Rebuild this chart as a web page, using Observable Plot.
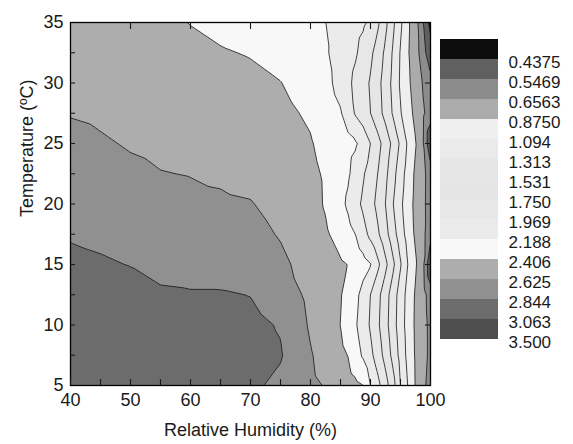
<!DOCTYPE html>
<html>
<head>
<meta charset="utf-8">
<script src="https://cdn.jsdelivr.net/npm/d3@7"></script>
<script src="https://cdn.jsdelivr.net/npm/@observablehq/plot@0.6"></script>
<style>
  html, body { margin: 0; padding: 0; background: #fff; }
  #wrap { position: relative; width: 573px; height: 444px; overflow: hidden; background: #fff; }
  #main { position: absolute; left: 0; top: 0; }
  #legend { position: absolute; left: 430px; top: 0; }
</style>
</head>
<body>
<div id="wrap"><div id="main"></div><div id="legend"></div></div>
<script>
// ---- data ----
const rhCols = [40, 45, 50, 55, 60, 65, 70, 75, 80, 82.5, 85, 86.25, 87.5, 88.75, 90, 91.25, 92.5, 93.75, 95, 96.25, 97.5, 98.75, 100];
const tempRows = [35, 32.5, 30, 27.5, 25, 22.5, 20, 17.5, 15, 12.5, 10, 7.5, 5];

const z35   = [2.50, 2.49, 2.48, 2.46, 2.40, 2.36, 2.33, 2.29, 2.23, 2.19, 2.112, 2.074, 2.036, 1.998, 1.932, 1.780, 1.582, 1.358, 1.131, 0.918, 0.707, 0.553, 0.40];
const z32_5 = [2.54, 2.53, 2.52, 2.50, 2.46, 2.42, 2.395, 2.35, 2.28, 2.210, 2.109, 2.051, 1.992, 1.903, 1.794, 1.653, 1.484, 1.288, 1.076, 0.897, 0.714, 0.585, 0.48];
const z30   = [2.58, 2.57, 2.55, 2.53, 2.50, 2.48, 2.45, 2.41, 2.33, 2.245, 2.121, 2.015, 1.918, 1.827, 1.728, 1.591, 1.435, 1.258, 1.063, 0.918, 0.771, 0.644, 0.58];
const z27_5 = [2.615, 2.595, 2.58, 2.56, 2.54, 2.52, 2.49, 2.45, 2.38, 2.293, 2.205, 2.091, 1.946, 1.848, 1.752, 1.613, 1.463, 1.291, 1.109, 0.961, 0.817, 0.674, 0.60];
const z25   = [2.68, 2.645, 2.61, 2.59, 2.58, 2.56, 2.53, 2.49, 2.42, 2.346, 2.278, 2.244, 2.209, 2.130, 1.967, 1.817, 1.654, 1.476, 1.276, 1.060, 0.889, 0.665, 0.45];
const z22_5 = [2.73, 2.70, 2.66, 2.63, 2.62, 2.60, 2.57, 2.52, 2.45, 2.383, 2.270, 2.213, 2.118, 1.994, 1.870, 1.744, 1.583, 1.388, 1.188, 1.005, 0.838, 0.686, 0.60];
const z20   = [2.78, 2.75, 2.71, 2.68, 2.66, 2.65, 2.635, 2.56, 2.48, 2.388, 2.241, 2.156, 2.042, 1.930, 1.820, 1.692, 1.529, 1.321, 1.138, 0.972, 0.820, 0.683, 0.60];
const z17_5 = [2.83, 2.815, 2.76, 2.73, 2.71, 2.70, 2.69, 2.61, 2.51, 2.436, 2.324, 2.256, 2.186, 2.051, 1.914, 1.777, 1.604, 1.405, 1.195, 1.005, 0.838, 0.686, 0.58];
const z15   = [2.88, 2.86, 2.84, 2.79, 2.77, 2.76, 2.75, 2.67, 2.54, 2.486, 2.432, 2.403, 2.335, 2.267, 2.199, 2.012, 1.801, 1.577, 1.332, 1.087, 0.904, 0.683, 0.45];
const z12_5 = [2.92, 2.92, 2.89, 2.87, 2.86, 2.86, 2.84, 2.76, 2.57, 2.494, 2.418, 2.340, 2.242, 2.121, 1.967, 1.808, 1.625, 1.422, 1.212, 1.019, 0.851, 0.699, 0.60];
const z10   = [2.95, 2.95, 2.93, 2.92, 2.91, 2.91, 2.89, 2.83, 2.60, 2.503, 2.404, 2.309, 2.211, 2.084, 1.943, 1.782, 1.604, 1.405, 1.195, 1.005, 0.842, 0.705, 0.62];
const z7_5  = [2.97, 2.97, 2.96, 2.95, 2.94, 2.93, 2.91, 2.86, 2.64, 2.551, 2.453, 2.401, 2.283, 2.161, 2.024, 1.859, 1.672, 1.467, 1.240, 1.028, 0.852, 0.708, 0.62];
const z5    = [2.98, 2.98, 2.97, 2.96, 2.95, 2.94, 2.88, 2.80, 2.66, 2.615, 2.532, 2.491, 2.449, 2.408, 2.186, 2.027, 1.835, 1.613, 1.311, 1.085, 0.861, 0.690, 0.60];

// contour levels (lower bound of each band) and legend labels
const bandLow = [0, 0.4375, 0.5469, 0.6563, 0.8750, 1.094, 1.313, 1.531, 1.750, 1.969, 2.188, 2.406, 2.625, 2.844, 3.063];
const levels = [0.4375, 0.5469, 0.6563, 0.8750, 1.094, 1.313, 1.531, 1.750, 1.969, 2.188, 2.406, 2.625, 2.844, 3.063];
const legendLabels = ["0.4375", "0.5469", "0.6563", "0.8750", "1.094", "1.313", "1.531", "1.750", "1.969", "2.188", "2.406", "2.625", "2.844", "3.063", "3.500"];
const bandColors = ["#0c0c0c", "#606060", "#8c8c8c", "#ababab", "#efefef", "#eaeaea", "#e6e6e6", "#e5e5e5", "#e7e7e7", "#ebebeb", "#f8f8f8", "#adadad", "#909090", "#6c6c6c", "#4e4e4e"];

const xTickValues = [40, 45, 50, 55, 60, 65, 70, 75, 80, 85, 90, 95, 100];
const xLabelValues = [40, 50, 60, 70, 80, 90, 100];
const xTopTickValues = [50, 60, 70, 80, 90];
const yTickValues = [7.5, 10, 12.5, 15, 17.5, 20, 22.5, 25, 27.5, 30, 32.5];
const yLabelValues = [5, 10, 15, 20, 25, 30, 35];
const yRightTickValues = [10, 15, 20, 25, 30];
const xTitle = "Relative Humidity (%)";
const yTitle = "Temperature (ºC)";

// ---- table for the contour mark ----
const zRows = [z35, z32_5, z30, z27_5, z25, z22_5, z20, z17_5, z15, z12_5, z10, z7_5, z5];
const grid = tempRows.flatMap((t, i) => rhCols.map((rh, j) => ({rh, t, z: zRows[i][j]})));

const fontFamily = '"Liberation Sans", Arial, Helvetica, sans-serif';
const colorScale = {type: "threshold", domain: levels, range: bandColors};

const main = Plot.plot({
  width: 440,
  height: 444,
  marginLeft: 70,
  marginRight: 10,
  marginTop: 22,
  marginBottom: 59,
  style: {fontFamily, fontSize: "18px", color: "#1a1a1a", background: "transparent", overflow: "visible"},
  x: {domain: [40, 100]},
  y: {domain: [5, 35]},
  color: colorScale,
  marks: [
    Plot.contour(grid, {
      x: "rh", y: "t", fill: "z",
      interpolate: "barycentric",
      thresholds: bandLow,
      pixelSize: 1,
      stroke: "#151515",
      strokeWidth: 0.8
    }),
    Plot.frame({stroke: "#000", strokeWidth: 1.3}),
    Plot.axisX(xTickValues, {anchor: "bottom", tickSize: -6, tickFormat: () => "", label: null, strokeWidth: 1.1}),
    Plot.axisX(xTopTickValues, {anchor: "top", tickSize: -6, tickFormat: () => "", label: null, strokeWidth: 1.1}),
    Plot.axisY(yTickValues, {anchor: "left", tickSize: -5, tickFormat: () => "", label: null, strokeWidth: 1.1}),
    Plot.axisY(yRightTickValues, {anchor: "right", tickSize: -6, tickFormat: () => "", label: null, strokeWidth: 1.1}),
    Plot.axisX(xLabelValues, {anchor: "bottom", tickSize: 0, tickPadding: 8, label: null, fontSize: 18}),
    Plot.axisY(yLabelValues, {anchor: "left", tickSize: 0, tickPadding: 7, label: null, fontSize: 18}),
    Plot.text([xTitle], {text: d => d, frameAnchor: "bottom", dy: 50, fontSize: 18, fill: "#1a1a1a"}),
    Plot.text([yTitle], {text: d => d, frameAnchor: "left", dx: -43, dy: 13, rotate: -90, fontSize: 18, fill: "#1a1a1a"})
  ]
});
document.getElementById("main").appendChild(main);

const bandIdx = d3.range(bandLow.length);
const legend = Plot.plot({
  width: 143,
  height: 444,
  marginLeft: 10,
  marginRight: 75,
  marginTop: 38,
  marginBottom: 104,
  style: {fontFamily, fontSize: "17px", color: "#1a1a1a", background: "transparent", overflow: "visible"},
  x: {axis: null},
  y: {type: "band", domain: bandIdx, padding: 0, axis: null},
  color: colorScale,
  marks: [
    Plot.cell(bandIdx, {y: d => d, fill: d => bandLow[d]}),
    Plot.text(bandIdx, {y: d => d, text: d => legendLabels[d], frameAnchor: "right", dx: 10, dy: 13, textAnchor: "start", fontSize: 17, fill: "#1a1a1a"})
  ]
});
document.getElementById("legend").appendChild(legend);
</script>
</body>
</html>
